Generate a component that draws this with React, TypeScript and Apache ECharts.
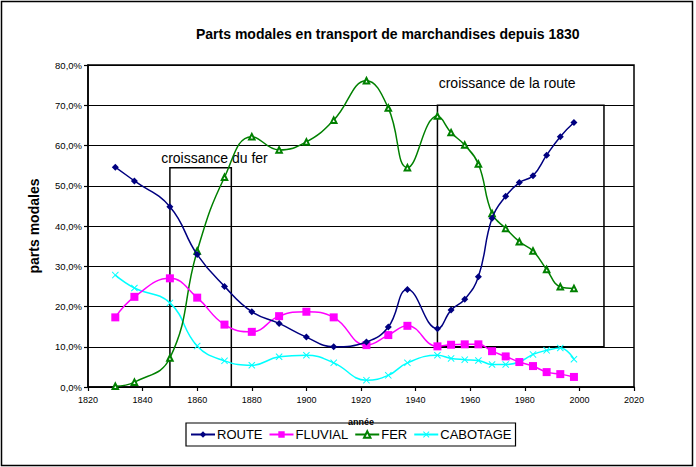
import React, { useEffect, useRef } from "react";
import * as echarts from "echarts";

const years = [1830, 1837, 1850, 1860, 1870, 1880, 1890, 1900, 1910, 1922, 1930, 1937, 1948, 1953, 1958, 1963, 1968, 1973, 1978, 1983, 1988, 1993, 1998];
const route = [54.6, 51.2, 44.8, 32.9, 25.0, 18.7, 15.8, 12.4, 10.0, 11.2, 14.9, 24.2, 14.5, 19.1, 21.8, 27.4, 41.9, 47.4, 50.8, 52.5, 57.6, 62.2, 65.7];
const fluvial = [17.3, 22.4, 27.0, 22.2, 15.5, 13.7, 17.6, 18.7, 17.3, 10.4, 12.9, 15.2, 10.1, 10.5, 10.6, 10.6, 8.9, 7.6, 6.2, 5.2, 3.7, 3.2, 2.5];
const fer = [0.2, 1.2, 7.2, 33.8, 52.1, 62.2, 58.9, 60.9, 66.3, 76.1, 69.3, 54.5, 67.3, 63.2, 60.1, 55.4, 43.1, 39.4, 36.1, 33.8, 29.2, 24.9, 24.5];
const cabotage = [27.8, 24.6, 20.9, 10.2, 6.5, 5.4, 7.5, 7.9, 6.0, 1.7, 2.9, 6.0, 7.9, 7.1, 6.8, 6.6, 5.6, 5.6, 6.2, 8.1, 9.1, 9.7, 6.9];

const seriesNames = ["ROUTE", "FLUVIAL", "FER", "CABOTAGE"];
// annotation boxes
const boxFer = { label: "croissance du fer", x0: 1850, x1: 1872.5, yTop: 54.5, yBottom: 0 };
const boxRoute = { label: "croissance de la route", x0: 1948, x1: 2009, yTop: 70, yBottom: 10 };

const FONT = "Liberation Sans, Arial, sans-serif";
const CROSS = "path://M0,1L1,0L5,4L9,0L10,1L6,5L10,9L9,10L5,6L1,10L0,9L4,5Z";

function pairs(vals: number[]) {
  return years.map((y, i) => [y, vals[i]]);
}

export default function App() {
  const ref = useRef<HTMLDivElement>(null);
  useEffect(() => {
    if (!ref.current) return;
    const chart = echarts.init(ref.current, null, { renderer: "svg" });
    const lineW = 1.5;
    const option: any = {
      animation: false,
      backgroundColor: "#fff",
      textStyle: { fontFamily: FONT },
      title: {
        text: "Parts modales en transport de marchandises depuis 1830",
        left: 191,
        top: 22,
        textStyle: { fontFamily: FONT, fontSize: 14, fontWeight: "bold", color: "#000" },
      },
      graphic: [
        {
          type: "rect",
          shape: { x: 1.5, y: 1.5, width: 691, height: 464 },
          style: { fill: "none", stroke: "#000", lineWidth: 1.5 },
          silent: true,
        },
      ],
      legend: {
        data: seriesNames,
        left: 186,
        top: 423,
        itemWidth: 24,
        itemHeight: 8,
        itemGap: 6,
        padding: [5, 4],
        borderColor: "#000",
        borderWidth: 1.2,
        textStyle: { fontFamily: FONT, fontSize: 13, color: "#000", padding: [0, 0, 0, -3] },
      },
      grid: {
        left: 88,
        top: 65,
        width: 546,
        height: 322,
        show: true,
        borderColor: "#000",
        borderWidth: 1.5,
        backgroundColor: "transparent",
      },
      xAxis: {
        type: "value",
        min: 1820,
        max: 2020,
        interval: 20,
        name: "année",
        nameLocation: "middle",
        nameGap: 30,
        nameTextStyle: { fontFamily: FONT, fontSize: 9, fontWeight: "bold", color: "#000" },
        axisLine: { show: true, lineStyle: { color: "#000", width: 1.5 } },
        axisTick: { show: true, length: 4, lineStyle: { color: "#000", width: 1.2 } },
        axisLabel: {
          fontFamily: FONT,
          fontSize: 9,
          color: "#000",
          margin: 8,
          formatter: (v: number) => String(v),
        },
        splitLine: { show: false },
      },
      yAxis: {
        type: "value",
        min: 0,
        max: 80,
        interval: 10,
        name: "parts modales",
        nameLocation: "middle",
        nameGap: 47,
        nameTextStyle: { fontFamily: FONT, fontSize: 14, fontWeight: "bold", color: "#000" },
        axisLine: { show: true, lineStyle: { color: "#000", width: 1.5 } },
        axisTick: { show: true, length: 4, lineStyle: { color: "#000", width: 1.2 } },
        axisLabel: {
          fontFamily: FONT,
          fontSize: 9.5,
          color: "#000",
          margin: 6,
          formatter: (v: number) => v.toFixed(1).replace(".", ",") + "%",
        },
        splitLine: { show: true, lineStyle: { color: "#000", width: 1.2 } },
      },
      series: [
        {
          name: "ROUTE",
          type: "line",
          smooth: 0.45,
          data: pairs(route),
          symbol: "diamond",
          symbolSize: 7,
          itemStyle: { color: "#000080" },
          lineStyle: { color: "#000080", width: lineW },
          z: 5,
          markArea: {
            silent: true,
            itemStyle: { color: "rgba(0,0,0,0)", borderColor: "#000", borderWidth: 1.5 },
            data: [
              [
                {
                  name: boxFer.label,
                  coord: [boxFer.x0, boxFer.yTop],
                  label: { show: true, position: [-8, -16], fontFamily: FONT, fontSize: 14, color: "#000" },
                },
                { coord: [boxFer.x1, boxFer.yBottom] },
              ],
              [
                {
                  name: boxRoute.label,
                  coord: [boxRoute.x0, boxRoute.yTop],
                  label: { show: true, position: [2, -29], fontFamily: FONT, fontSize: 14, color: "#000" },
                },
                { coord: [boxRoute.x1, boxRoute.yBottom] },
              ],
            ],
          },
        },
        {
          name: "FLUVIAL",
          type: "line",
          smooth: 0.45,
          data: pairs(fluvial),
          symbol: "rect",
          symbolSize: 8,
          itemStyle: { color: "#FF00FF" },
          lineStyle: { color: "#FF00FF", width: lineW },
          z: 4,
        },
        {
          name: "FER",
          type: "line",
          smooth: 0.45,
          data: pairs(fer),
          symbol: "emptyTriangle",
          symbolSize: 5.5,
          itemStyle: { color: "#008000", borderWidth: 1 },
          lineStyle: { color: "#008000", width: lineW },
          z: 3,
        },
        {
          name: "CABOTAGE",
          type: "line",
          smooth: 0.45,
          data: pairs(cabotage),
          symbol: CROSS,
          symbolSize: 7,
          itemStyle: { color: "#00FFFF" },
          lineStyle: { color: "#00FFFF", width: lineW },
          z: 2,
        },
      ],
    };
    chart.setOption(option);
    return () => chart.dispose();
  }, []);
  return (
    <div
      ref={ref}
      style={{ position: "absolute", left: 0, top: 0, width: 696, height: 467 }}
    />
  );
}
